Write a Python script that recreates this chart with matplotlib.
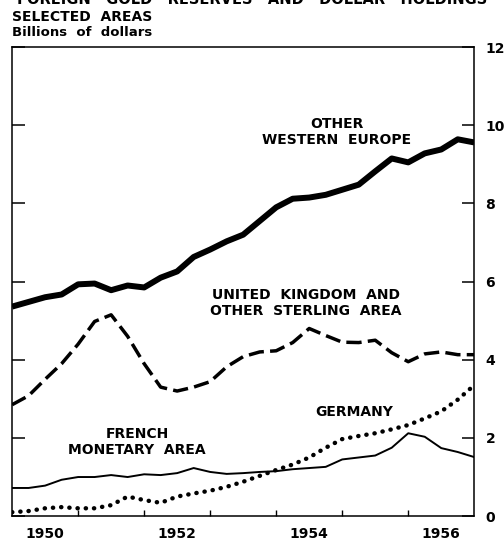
import matplotlib
matplotlib.use("Agg")
import matplotlib.pyplot as plt
import numpy as np

plt.rcParams['font.family'] = ['DejaVu Sans']

# quarterly points, end of 1949 through end of 1956
quarters = np.arange(29) * 0.25 + 1950.0

other_western_europe = [5.36, 5.48, 5.60, 5.67, 5.93, 5.95, 5.78, 5.90, 5.85, 6.10,
                        6.26, 6.63, 6.82, 7.03, 7.20, 7.55, 7.90, 8.12, 8.15, 8.22,
                        8.35, 8.48, 8.82, 9.15, 9.05, 9.28, 9.38, 9.64, 9.56]
uk_sterling = [2.85, 3.08, 3.50, 3.90, 4.40, 4.98, 5.15, 4.60, 3.90, 3.30,
               3.20, 3.30, 3.44, 3.82, 4.08, 4.20, 4.23, 4.44, 4.80, 4.62,
               4.45, 4.44, 4.50, 4.18, 3.95, 4.15, 4.20, 4.13, 4.13]
french_area = [0.72, 0.72, 0.78, 0.93, 1.00, 1.00, 1.05, 1.00, 1.07, 1.05,
               1.10, 1.23, 1.13, 1.08, 1.10, 1.13, 1.15, 1.20, 1.23, 1.26,
               1.45, 1.50, 1.55, 1.75, 2.12, 2.03, 1.74, 1.64, 1.51]
germany = [0.10, 0.13, 0.20, 0.23, 0.20, 0.20, 0.28, 0.50, 0.41, 0.34,
           0.50, 0.58, 0.65, 0.75, 0.88, 1.03, 1.18, 1.32, 1.50, 1.75,
           1.97, 2.05, 2.12, 2.22, 2.33, 2.50, 2.68, 2.98, 3.35]

year_labels = ['1950', '1952', '1954', '1956']
year_pos = [1950.5, 1952.5, 1954.5, 1956.5]
y_ticks = [0, 2, 4, 6, 8, 10, 12]

fig = plt.figure(figsize=(5.04, 5.41), dpi=100)
ax = fig.add_axes([0.024, 0.046, 0.917, 0.867])

ax.plot(quarters, other_western_europe, color='black', lw=4.3,
        solid_joinstyle='round', solid_capstyle='butt')
ax.plot(quarters, uk_sterling, color='black', lw=2.5, dashes=(4.4, 1.8),
        dash_capstyle='butt')
ax.plot(quarters, french_area, color='black', lw=1.4)
ax.plot(quarters, germany, color='black', lw=3.2, dashes=(0.05, 1.8),
        dash_capstyle='round')

ax.set_xlim(1950, 1957)
ax.set_ylim(0, 12)

# labels on the right side, ticks pointing in on both sides
ax.set_yticks(y_ticks)
ax.set_yticklabels([str(v) for v in y_ticks], fontsize=10, fontweight='bold')
ax.yaxis.tick_right()
ax.tick_params(axis='y', which='major', direction='in', length=9, width=1.1,
               left=True, right=True, labelleft=False, labelright=True, pad=8)

ax.set_xticks(year_pos)
ax.set_xticklabels(year_labels, fontsize=10, fontweight='bold')
ax.set_xticks(np.arange(1951, 1957), minor=True)
ax.tick_params(axis='x', which='major', length=0, pad=8)
ax.tick_params(axis='x', which='minor', direction='in', length=4, width=1)

for s in ax.spines.values():
    s.set_linewidth(1.1)

lab = dict(ha='center', va='center', fontsize=10, fontweight='bold',
           linespacing=1.2)
ax.text(1954.92, 9.82, 'OTHER\nWESTERN  EUROPE', **lab)
ax.text(1954.45, 5.46, 'UNITED  KINGDOM  AND\nOTHER  STERLING  AREA', **lab)
ax.text(1951.89, 1.90, 'FRENCH\nMONETARY  AREA', **lab)
ax.text(1955.18, 2.67, 'GERMANY', **lab)

# top line of the title is cut by the page edge in the original
fig.text(0.5, 1.0, 'FOREIGN   GOLD   RESERVES   AND   DOLLAR   HOLDINGS',
         ha='center', va='center', fontsize=10.5, fontweight='bold')
fig.text(0.024, 1 - 17 / 541, 'SELECTED  AREAS', ha='left', va='center',
         fontsize=10, fontweight='bold')
fig.text(0.024, 1 - 33 / 541, 'Billions  of  dollars', ha='left', va='center',
         fontsize=9.5, fontweight='bold')

fig.savefig('out.png', dpi=100)
